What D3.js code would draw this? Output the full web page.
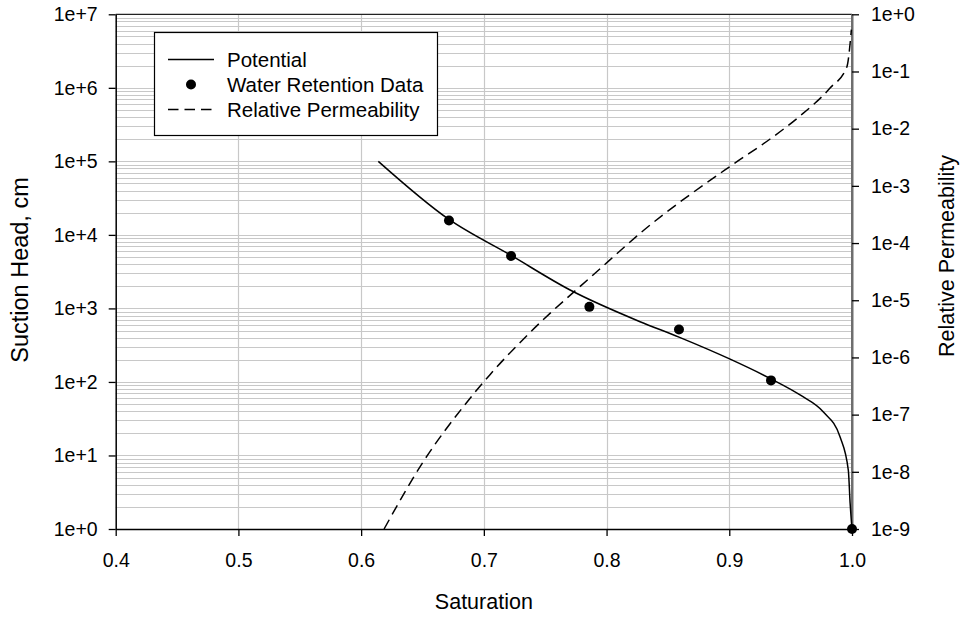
<!DOCTYPE html>
<html>
<head>
<meta charset="utf-8">
<script src="https://cdn.jsdelivr.net/npm/d3@7"></script>
<style>
  html, body { margin: 0; padding: 0; background: #fff; }
  svg { display: block; font-family: Arial, "Liberation Sans", sans-serif; }
</style>
</head>
<body>
<svg id="chart" width="963" height="617"></svg>
<script>
// ---------- data ----------
const xTicks = [0.4, 0.5, 0.6, 0.7, 0.8, 0.9, 1.0];
const xTickLabels = ["0.4", "0.5", "0.6", "0.7", "0.8", "0.9", "1.0"];
const yLeftTicks = [1e0, 1e1, 1e2, 1e3, 1e4, 1e5, 1e6, 1e7];
const yLeftTickLabels = ["1e+0", "1e+1", "1e+2", "1e+3", "1e+4", "1e+5", "1e+6", "1e+7"];
const yRightTicks = [1e-9, 1e-8, 1e-7, 1e-6, 1e-5, 1e-4, 1e-3, 1e-2, 1e-1, 1e0];
const yRightTickLabels = ["1e-9", "1e-8", "1e-7", "1e-6", "1e-5", "1e-4", "1e-3", "1e-2", "1e-1", "1e+0"];

// Potential curve (saturation, suction head cm)
const potentialS = [0.614, 0.6716, 0.7222, 0.7703, 0.8273, 0.859, 0.9007, 0.934, 0.958, 0.9767, 0.9903, 0.997, 0.9985, 1.0];
const potentialH = [100000, 16200, 5250, 1780, 660, 407, 204, 110, 66, 39, 17.8, 6.3, 2.2, 1.0];

// Water retention data (saturation, suction head cm)
const retentionS = [0.6716, 0.7222, 0.786, 0.859, 0.934, 1.0];
const retentionH = [15700, 5150, 1050, 518, 105, 1];

// Relative permeability curve (saturation, kr)
const permS = [0.6187, 0.6507, 0.6833, 0.705, 0.735, 0.7947, 0.8273, 0.9033, 0.9333, 0.9563, 0.9821, 0.9958, 0.9995];
const permK = [1e-9, 1.51e-8, 1.38e-7, 5.0e-7, 2.4e-6, 3.55e-5, 1.48e-4, 2.4e-3, 6.6e-3, 0.0158, 0.0513, 0.12, 0.54];

const legendLabels = ["Potential", "Water Retention Data", "Relative Permeability"];
const axisTitles = { x: "Saturation", yLeft: "Suction Head, cm", yRight: "Relative Permeability" };

// ---------- layout ----------
const L = 115.7, R = 852, T = 14.3, B = 529;
const svg = d3.select("#chart");

const x = d3.scaleLinear().domain([0.4, 1.0]).range([L, R]);
const yL = d3.scaleLog().domain([1, 1e7]).range([B, T]);
const yR = d3.scaleLog().domain([1e-9, 1]).range([B, T]);

// ---------- grid ----------
const grid = svg.append("g").attr("stroke", "#c8c8c8").attr("stroke-width", 1.2);
const hLines = [];
for (let e = 0; e < 7; e++) {
  for (let m = 1; m <= 9; m++) {
    const v = m * Math.pow(10, e);
    if (v > 1) hLines.push(v);
  }
}
grid.selectAll("line.h").data(hLines).join("line")
  .attr("x1", L).attr("x2", R)
  .attr("y1", d => Math.round(yL(d)) + 0.5).attr("y2", d => Math.round(yL(d)) + 0.5);
grid.selectAll("line.v").data(xTicks.slice(1, -1)).join("line")
  .attr("x1", d => Math.round(x(d)) + 0.5).attr("x2", d => Math.round(x(d)) + 0.5)
  .attr("y1", T).attr("y2", B);

// ---------- frame ----------
svg.append("line").attr("x1", L).attr("x2", R).attr("y1", T).attr("y2", T)
  .attr("stroke", "#222").attr("stroke-width", 1.3);
svg.append("line").attr("x1", R).attr("x2", R).attr("y1", T).attr("y2", B)
  .attr("stroke", "#6e6e6e").attr("stroke-width", 2);

// ---------- axes ----------
const fontSize = 19.5;
const xAxis = d3.axisBottom(x).tickValues(xTicks).tickFormat((d, i) => xTickLabels[i])
  .tickSizeInner(7).tickSizeOuter(0).tickPadding(17);
const gx = svg.append("g").attr("transform", `translate(0,${B})`).call(xAxis);

const yAxisL = d3.axisLeft(yL).tickValues(yLeftTicks).tickFormat((d, i) => yLeftTickLabels[i])
  .tickSizeInner(7).tickSizeOuter(0).tickPadding(11);
const gyl = svg.append("g").attr("transform", `translate(${L},0)`).call(yAxisL);

const yAxisR = d3.axisRight(yR).tickValues(yRightTicks).tickFormat((d, i) => yRightTickLabels[i])
  .tickSizeInner(7).tickSizeOuter(0).tickPadding(12);
const gyr = svg.append("g").attr("transform", `translate(${R},0)`).call(yAxisR);

[gx, gyl, gyr].forEach(g => {
  g.selectAll("text").attr("font-size", fontSize).attr("fill", "#000")
    .attr("font-family", "Arial, 'Liberation Sans', sans-serif");
  g.selectAll("line").attr("stroke", "#000").attr("stroke-width", 1.3);
  g.select(".domain").attr("stroke", "#000").attr("stroke-width", 1.5);
});
gyr.select(".domain").attr("stroke", "#6e6e6e").attr("stroke-width", 2);

// ---------- series ----------
const potData = potentialS.map((s, i) => ({ s, v: potentialH[i] }));
const permData = permS.map((s, i) => ({ s, v: permK[i] }));
const retData = retentionS.map((s, i) => ({ s, v: retentionH[i] }));

svg.append("clipPath").attr("id", "plotclip")
  .append("rect").attr("x", L).attr("y", T - 1).attr("width", R - L + 2).attr("height", B - T + 2);

svg.append("path").datum(potData)
  .attr("fill", "none").attr("stroke", "#000").attr("stroke-width", 1.5)
  .attr("d", d3.line().x(d => x(d.s)).y(d => yL(d.v)).curve(d3.curveMonotoneX));

svg.append("path").datum(permData)
  .attr("fill", "none").attr("stroke", "#000").attr("stroke-width", 1.5)
  .attr("stroke-dasharray", "10.5,6")
  .attr("clip-path", "url(#plotclip)")
  .attr("d", d3.line().x(d => x(d.s)).y(d => yR(d.v)).curve(d3.curveMonotoneX));

svg.append("g").selectAll("circle").data(retData).join("circle")
  .attr("cx", d => x(d.s)).attr("cy", d => yL(d.v)).attr("r", 5).attr("fill", "#000");

// ---------- legend ----------
const lg = svg.append("g");
lg.append("rect").attr("x", 154.5).attr("y", 32.5).attr("width", 283).attr("height", 103)
  .attr("fill", "#fff").attr("stroke", "#000").attr("stroke-width", 1.2);
const rowY = [59.5, 84.5, 109.5];
lg.append("line").attr("x1", 168).attr("x2", 214).attr("y1", rowY[0]).attr("y2", rowY[0])
  .attr("stroke", "#000").attr("stroke-width", 1.5);
lg.append("circle").attr("cx", 191).attr("cy", rowY[1]).attr("r", 5).attr("fill", "#000");
lg.append("line").attr("x1", 168).attr("x2", 214).attr("y1", rowY[2]).attr("y2", rowY[2])
  .attr("stroke", "#000").attr("stroke-width", 1.5).attr("stroke-dasharray", "10.5,6");
lg.selectAll("text").data(legendLabels).join("text")
  .attr("x", 227).attr("y", (d, i) => rowY[i]).attr("dy", "0.35em")
  .attr("font-size", 20.5).text(d => d);

// ---------- axis titles ----------
svg.append("text").attr("x", (L + R) / 2).attr("y", 609).attr("text-anchor", "middle")
  .attr("font-size", 21.5).text(axisTitles.x);
svg.append("text").attr("transform", `translate(28,270) rotate(-90)`)
  .attr("text-anchor", "middle").attr("font-size", 23.5).text(axisTitles.yLeft);
svg.append("text").attr("transform", `translate(954,256) rotate(-90)`)
  .attr("text-anchor", "middle").attr("font-size", 21.5).text(axisTitles.yRight);
</script>
</body>
</html>
